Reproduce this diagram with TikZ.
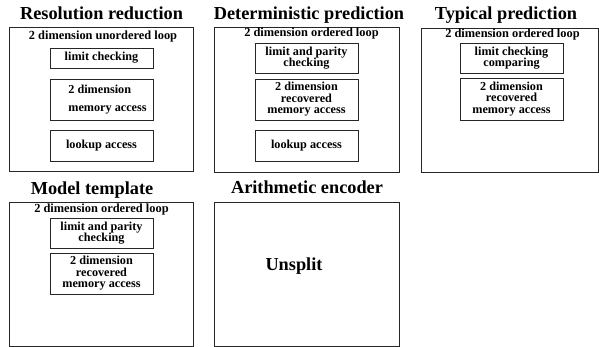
\documentclass[tikz,border=0pt]{standalone}
\usepackage{fontspec}
\setmainfont{Liberation Serif}
\begin{document}
\begin{tikzpicture}[x=1pt,y=-1pt,
    panel/.style={draw=black!85,line width=0.8pt,rectangle,inner sep=0pt},
    ttl/.style={font=\fontsize{18.3}{20}\selectfont\bfseries,anchor=base,inner sep=0pt},
    head/.style={font=\fontsize{12.4}{12}\selectfont\bfseries,anchor=base,inner sep=0pt},
    unit/.style={draw=black!85,line width=0.8pt,rectangle,inner sep=0pt,minimum width=103pt,align=center,font=\fontsize{12.2}{11.5}\selectfont\bfseries}
  ]
  \useasboundingbox (0,0) rectangle (599,347);
  % resolution reduction
  \node[ttl] (ttlres) at (101.5,20) {Resolution reduction};
  \node[panel,minimum width=184pt,minimum height=144pt] (res) at (101,99) {};
  \node[head] (headres) at (103,40) {2 dimension unordered loop};
  \node[unit,minimum height=20pt] (reslim) at (101.5,58) {limit checking};
  \node[unit,minimum height=41pt,align=left] (resmem) at (101.5,99.5) {\hspace*{12pt}2 dimension\\[7pt]\hspace*{12pt}memory access};
  \node[unit,minimum height=31pt] (reslku) at (101.5,145.5) {lookup access};
  % deterministic prediction
  \node[ttl] (ttldet) at (309,20) {Deterministic prediction};
  \node[panel,minimum width=185pt,minimum height=145pt] (det) at (306.5,99.5) {};
  \node[head] (headdet) at (311.5,37) {2 dimension ordered loop};
  \node[unit,minimum height=30pt] (detlim) at (306.5,58) {limit and parity\\checking};
  \node[unit,minimum height=41pt] (detmem) at (306.5,99.5) {2 dimension\\recovered\\memory access};
  \node[unit,minimum height=31pt] (detlku) at (306.5,145.5) {lookup access};
  % typical prediction
  \node[ttl] (ttltyp) at (506,20) {Typical prediction};
  \node[panel,minimum width=177pt,minimum height=144pt] (typ) at (509.5,100) {};
  \node[head] (headtyp) at (512.5,38) {2 dimension ordered loop};
  \node[unit,minimum height=30pt] (typlim) at (511.5,58) {limit checking\\comparing};
  \node[unit,minimum height=42pt] (typmem) at (511.5,99) {2 dimension\\recovered\\memory access};
  % model template
  \node[ttl] (ttlmod) at (92,195) {Model template};
  \node[panel,minimum width=184pt,minimum height=144pt] (mod) at (101,274) {};
  \node[head] (headmod) at (101.5,212.5) {2 dimension ordered loop};
  \node[unit,minimum height=30pt] (modlim) at (101.5,233) {limit and parity\\checking};
  \node[unit,minimum height=41pt] (modmem) at (101.5,273.5) {2 dimension\\recovered\\memory access};
  % arithmetic encoder
  \node[ttl] (ttlari) at (307,194) {Arithmetic encoder};
  \node[panel,minimum width=185pt,minimum height=144pt] (ari) at (306.5,274) {};
  \node[ttl] (unsplit) at (294,270) {Unsplit};
\end{tikzpicture}
\end{document}
